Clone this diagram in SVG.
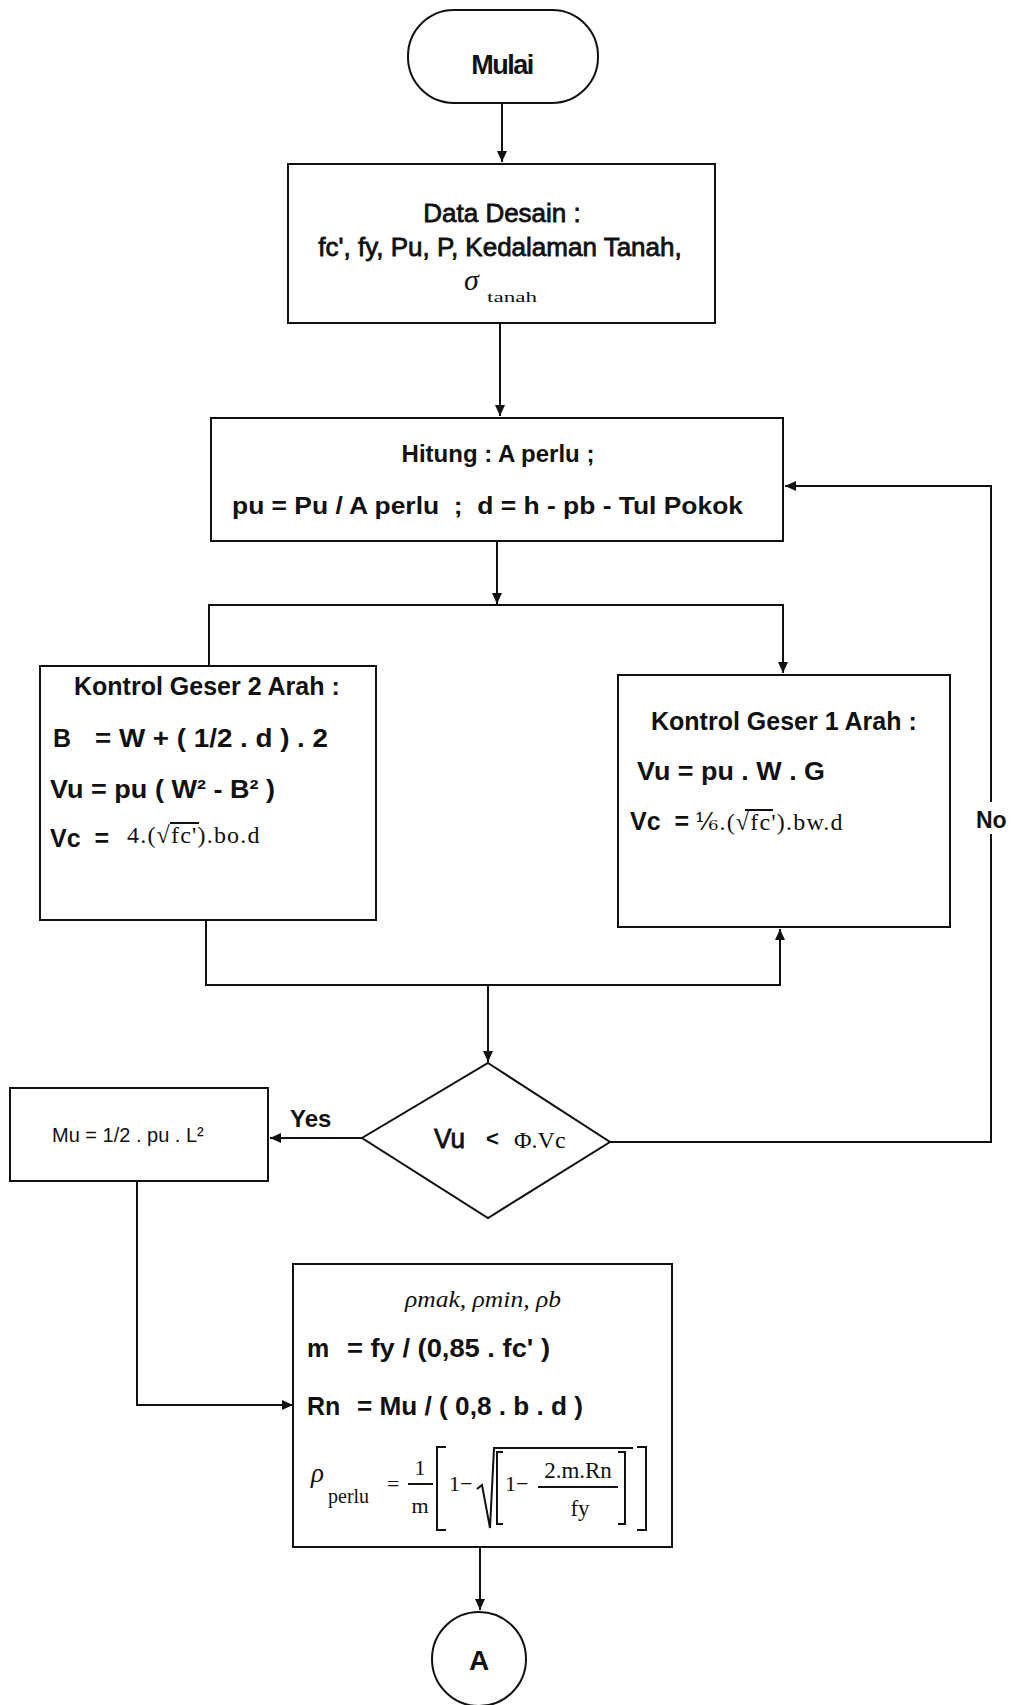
<svg xmlns="http://www.w3.org/2000/svg" width="1011" height="1705" viewBox="0 0 1011 1705">
<defs>
<marker id="ah" markerUnits="userSpaceOnUse" markerWidth="12" markerHeight="12" refX="11" refY="6" orient="auto">
<path d="M0,1 L11,6 L0,11 z" fill="#111"/>
</marker>
<style>
.box{fill:#fff;stroke:#111;stroke-width:2}
.ln{fill:none;stroke:#111;stroke-width:2}
.s{font-family:"Liberation Sans",Arial,sans-serif;fill:#111}
.b{font-weight:bold}
.h{stroke:#111;stroke-width:0.8}
.r{font-family:"Liberation Serif","Times New Roman","DejaVu Serif",serif;fill:#111}
.m{text-anchor:middle}
</style>
</defs>
<rect width="1011" height="1705" fill="#fff"/>

<g id="connectors">
<path class="ln" d="M502,103 V162" marker-end="url(#ah)"/>
<path class="ln" d="M500,323 V416" marker-end="url(#ah)"/>
<path class="ln" d="M497,541 V604" marker-end="url(#ah)"/>
<path class="ln" d="M209,666 V605 H783 V673" marker-end="url(#ah)"/>
<path class="ln" d="M206,920 V985 H780 V929" marker-end="url(#ah)"/>
<path class="ln" d="M488,985 V1062" marker-end="url(#ah)"/>
<path class="ln" d="M362,1138 H270" marker-end="url(#ah)"/>
<path class="ln" d="M610,1142 H991 V486 H785" marker-end="url(#ah)"/>
<path class="ln" d="M137,1181 V1405 H293" marker-end="url(#ah)"/>
<path class="ln" d="M480,1547 V1610" marker-end="url(#ah)"/>
<rect x="974" y="802" width="34" height="32" fill="#fff"/>
<text class="s b" x="976" y="828" font-size="23">No</text>
<text class="s b" x="290" y="1127" font-size="24">Yes</text>
</g>

<g id="start">
<rect class="box" x="408" y="10" width="190" height="93" rx="46" ry="46"/>
<text class="s b m" x="502" y="74" font-size="27" letter-spacing="-1.5">Mulai</text>
</g>

<g id="data">
<rect class="box" x="288" y="164" width="427" height="159"/>
<text class="s h m" x="502" y="222" font-size="26">Data Desain :</text>
<text class="s h m" x="500" y="256" font-size="26">fc', fy, Pu, P, Kedalaman Tanah,</text>
<text class="r" x="464" y="290" font-size="30" font-style="italic">σ</text>
<text class="r" x="487" y="302" font-size="15" textLength="50" lengthAdjust="spacingAndGlyphs">tanah</text>
</g>

<g id="hitung">
<rect class="box" x="211" y="418" width="572" height="123"/>
<text class="s b m" x="498" y="462" font-size="24">Hitung : A perlu ;</text>
<text class="s b" x="232" y="514" font-size="24" textLength="511" lengthAdjust="spacingAndGlyphs" xml:space="preserve">pu = Pu / A perlu  ;  d = h - pb - Tul Pokok</text>
</g>

<g id="geser2">
<rect class="box" x="40" y="666" width="336" height="254"/>
<text class="s b" x="74" y="695" font-size="25">Kontrol Geser 2 Arah :</text>
<text class="s b" x="53" y="747" font-size="25">B</text>
<text class="s b" x="95" y="747" font-size="25" textLength="233" lengthAdjust="spacingAndGlyphs" xml:space="preserve">= W + ( 1/2 . d ) . 2</text>
<text class="s b" x="50" y="798" font-size="25" textLength="225" lengthAdjust="spacingAndGlyphs">Vu = pu ( W² - B² )</text>
<text class="s b" x="50" y="847" font-size="25" xml:space="preserve">Vc  =</text>
<text class="r" x="127" y="843" font-size="24" letter-spacing="1.2">4.(√fc').bo.d</text>
<line class="ln" x1="170" y1="823" x2="199" y2="823" stroke-width="1.5"/>
</g>

<g id="geser1">
<rect class="box" x="618" y="675" width="332" height="252"/>
<text class="s b" x="651" y="730" font-size="25">Kontrol Geser 1 Arah :</text>
<text class="s b" x="637" y="780" font-size="25" textLength="188" lengthAdjust="spacingAndGlyphs">Vu = pu . W . G</text>
<text class="s b" x="630" y="830" font-size="25" xml:space="preserve">Vc  =</text>
<text class="r" x="695" y="830" font-size="24" letter-spacing="1.2">⅙.(√fc').bw.d</text>
<line class="ln" x1="745" y1="810" x2="773" y2="810" stroke-width="1.5"/>
</g>

<g id="decision">
<polygon class="box" points="488,1063 610,1142 488,1218 362,1138"/>
<text class="s h" x="434" y="1148" font-size="27" textLength="31" lengthAdjust="spacingAndGlyphs">Vu</text>
<text class="s b" x="486" y="1146" font-size="22">&lt;</text>
<text class="r" x="514" y="1148" font-size="24">Φ.Vc</text>
</g>

<g id="moment">
<rect class="box" x="10" y="1088" width="258" height="93"/>
<text class="s" x="52" y="1142" font-size="20">Mu = 1/2 . pu . L²</text>
</g>

<g id="tulangan">
<rect class="box" x="293" y="1264" width="379" height="283"/>
<text class="r" x="405" y="1307" font-size="23" font-style="italic" textLength="156" lengthAdjust="spacingAndGlyphs">ρmak, ρmin, ρb</text>
<text class="s b" x="307" y="1357" font-size="25">m</text>
<text class="s b" x="347" y="1357" font-size="25" textLength="203" lengthAdjust="spacingAndGlyphs" xml:space="preserve">= fy / (0,85 . fc' )</text>
<text class="s b" x="307" y="1415" font-size="25">Rn</text>
<text class="s b" x="357" y="1415" font-size="25" textLength="226" lengthAdjust="spacingAndGlyphs" xml:space="preserve">= Mu / ( 0,8 . b . d )</text>
<text class="r" x="311" y="1482" font-size="27" font-style="italic">ρ</text>
<text class="r" x="328" y="1503" font-size="20">perlu</text>
<text class="r" x="387" y="1491" font-size="22">=</text>
<text class="r m" x="420" y="1475" font-size="22">1</text>
<line class="ln" x1="408" y1="1484" x2="433" y2="1484" stroke-width="1.5"/>
<text class="r m" x="420" y="1513" font-size="22">m</text>
<path class="ln" d="M446,1447 H437 V1530 H446" stroke-width="1.5"/>
<text class="r" x="449" y="1491" font-size="22">1−</text>
<path class="ln" d="M477,1489 L482,1485 L490,1528 L494,1448 H633" stroke-width="1.5"/>
<path class="ln" d="M503,1452 H497 V1524 H503" stroke-width="1.5"/>
<text class="r" x="505" y="1491" font-size="22">1−</text>
<text class="r m" x="578" y="1478" font-size="23">2.m.Rn</text>
<line class="ln" x1="538" y1="1487" x2="618" y2="1487" stroke-width="1.5"/>
<text class="r m" x="580" y="1516" font-size="23">fy</text>
<path class="ln" d="M618,1452 H625 V1524 H618" stroke-width="1.5"/>
<path class="ln" d="M637,1447 H646 V1530 H637" stroke-width="1.5"/>
</g>

<g id="connector-A">
<circle class="box" cx="479" cy="1659" r="47"/>
<text class="s b m" x="479" y="1670" font-size="28">A</text>
</g>
</svg>
